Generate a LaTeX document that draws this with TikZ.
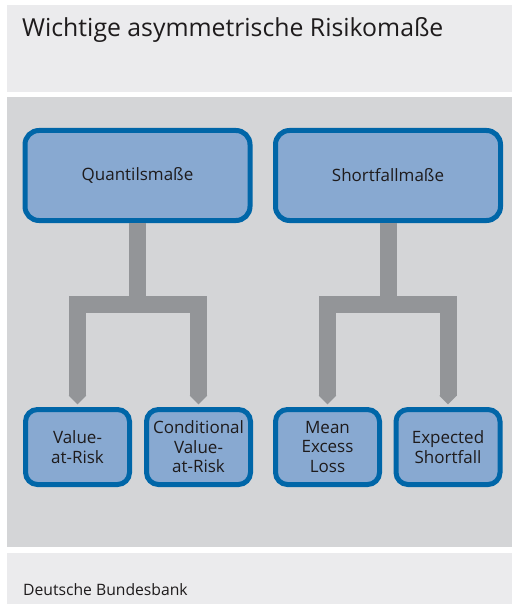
\documentclass[tikz,border=0pt]{standalone}
\usepackage{fontspec}
\setmainfont{Open Sans}
\usetikzlibrary{arrows.meta}
\definecolor{headbg}{HTML}{EBEBED}
\definecolor{panelbg}{HTML}{D4D5D7}
\definecolor{boxfill}{HTML}{88A9D1}
\definecolor{boxline}{HTML}{0066A8}
\definecolor{connc}{HTML}{939598}
\definecolor{inkc}{HTML}{1E1B1C}
\tikzset{
  topbox/.style={draw=boxline, fill=boxfill, line width=5pt, rounded corners=14pt,
    minimum width=225pt, minimum height=90pt, inner sep=0pt, text=inkc,
    font=\fontsize{17}{20}\selectfont},
  leafbox/.style={draw=boxline, fill=boxfill, line width=5pt, rounded corners=12pt,
    minimum width=104pt, minimum height=75pt, inner sep=0pt, text=inkc, align=center,
    font=\fontsize{17}{19.5}\selectfont},
  conn/.style={draw=connc, line width=17pt, line join=miter,
    -{Triangle[length=9pt,width=17pt]}, shorten >=2.5pt},
  stem/.style={draw=connc, line width=17pt}
}
\begin{document}
\begin{tikzpicture}[x=1pt,y=-1pt]
  \useasboundingbox (0,0) rectangle (512,604);
  \fill[white] (0,0) rectangle (512,604);
  % panels
  \fill[headbg] (7,5) rectangle (512,92);
  \fill[panelbg] (7,97) rectangle (512,547);
  \fill[headbg] (7,553) rectangle (512,604);
  \node[anchor=base west, inner sep=0pt, text=inkc, font=\fontsize{24.8}{28}\selectfont] (title) at (22,37) {Wichtige asymmetrische Risikomaße};
  \node[anchor=base west, inner sep=0pt, text=inkc, font=\fontsize{15.7}{18}\selectfont] (src) at (23,595) {Deutsche Bundesbank};
  % top level
  \node[topbox] (q) at (137.5,175.5) {Quantilsmaße};
  \node[topbox] (s) at (388,175.5) {Shortfallmaße};
  % leaves
  \node[leafbox] (var) at (77.5,447) {Value-\\at-Risk};
  \node[leafbox] (cvar) at (198.5,447) {Conditional\\Value-\\at-Risk};
  \node[leafbox] (mel) at (327.5,447) {Mean\\Excess\\Loss};
  \node[leafbox] (es) at (448,447) {Expected\\Shortfall};
  % connectors
  \coordinate (qj) at (137.5,304.5);
  \coordinate (sj) at (388,304.5);
  \draw[stem] (q.south) -- (qj);
  \draw[stem] (s.south) -- (sj);
  \draw[conn] (qj) -| (var.north);
  \draw[conn] (qj) -| (cvar.north);
  \draw[conn] (sj) -| (mel.north);
  \draw[conn] (sj) -| (es.north);
\end{tikzpicture}
\end{document}
